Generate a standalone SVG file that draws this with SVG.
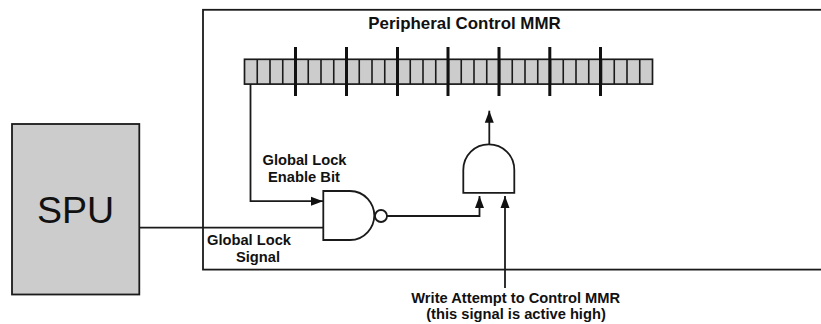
<svg xmlns="http://www.w3.org/2000/svg" width="821" height="324" viewBox="0 0 821 324">
<style>
text{font-family:"Liberation Sans",Arial,sans-serif;fill:#111}
.l{font-size:14.7px;font-weight:bold;text-anchor:middle}
.w{fill:none;stroke:#1a1a1a;stroke-width:1.8}
.g{fill:#fff;stroke:#1a1a1a;stroke-width:1.8}
.t{stroke:#111;stroke-width:3}
</style>
<defs>
<marker id="a" markerUnits="userSpaceOnUse" markerWidth="13" markerHeight="11" refX="12" refY="5.500" orient="auto"><path d="M0 1 L12 5.500 L0 10Z" fill="#111"/></marker>
</defs>
<g id="mmr">
<rect x="203" y="9.800" width="700" height="259.800" fill="#fff" stroke="#1a1a1a" stroke-width="1.800"/>
<text class="l" x="464.500" y="29" style="font-size:16.9px">Peripheral Control MMR</text>
</g>
<g id="register">
<rect x="244.500" y="59.300" width="408" height="24.800" fill="#ccc" stroke="#1a1a1a" stroke-width="1.700"/>
<path fill="none" stroke="#1a1a1a" stroke-width="1.600" d="M257.250 59v25M270 59v25M282.750 59v25M295.500 59v25M308.250 59v25M321 59v25M333.750 59v25M346.500 59v25M359.250 59v25M372 59v25M384.750 59v25M397.500 59v25M410.250 59v25M423 59v25M435.750 59v25M448.500 59v25M461.250 59v25M474 59v25M486.750 59v25M499.500 59v25M512.250 59v25M525 59v25M537.750 59v25M550.500 59v25M563.250 59v25M576 59v25M588.750 59v25M601.500 59v25M614.250 59v25M627 59v25M639.750 59v25"/>
<path class="t" d="M295.500 47v49M346.500 47v49M397.500 47v49M448 47v49M499 47v49M549.800 47v49M600.500 47v49"/>
</g>
<g id="spu">
<rect x="12" y="124" width="127.300" height="170.500" fill="#ccc" stroke="#1a1a1a" stroke-width="1.800"/>
<text x="75.500" y="222.700" font-size="37.500" text-anchor="middle">SPU</text>
</g>
<g id="connectors">
<path class="w" marker-end="url(#a)" d="M250.500 84V201.200H323"/>
<path class="w" d="M139 227.700H323"/>
<path class="w" marker-end="url(#a)" d="M387 216H479.500V196"/>
<path class="w" marker-end="url(#a)" d="M505 288V196"/>
<path class="w" marker-end="url(#a)" d="M489.300 144V110.700"/>
</g>
<g id="nand">
<path class="g" d="M323.300 191H350C365 191 374.300 204 374.300 215.500S365 240 350 240H323.300Z"/>
<circle class="g" cx="381" cy="216" r="6"/>
</g>
<g id="and">
<path class="g" d="M463.300 192.800V170C463.300 155 475 144.300 488.800 144.300S514.300 155 514.300 170V192.800Z"/>
</g>
<g id="labels">
<text class="l" x="304.500" y="165">Global Lock</text>
<text class="l" x="304" y="182">Enable Bit</text>
<text class="l" x="249" y="245">Global Lock</text>
<text class="l" x="258" y="261.500">Signal</text>
<text class="l" x="515.700" y="303">Write Attempt to Control MMR</text>
<text class="l" x="516" y="318.500">(this signal is active high)</text>
</g>
</svg>
